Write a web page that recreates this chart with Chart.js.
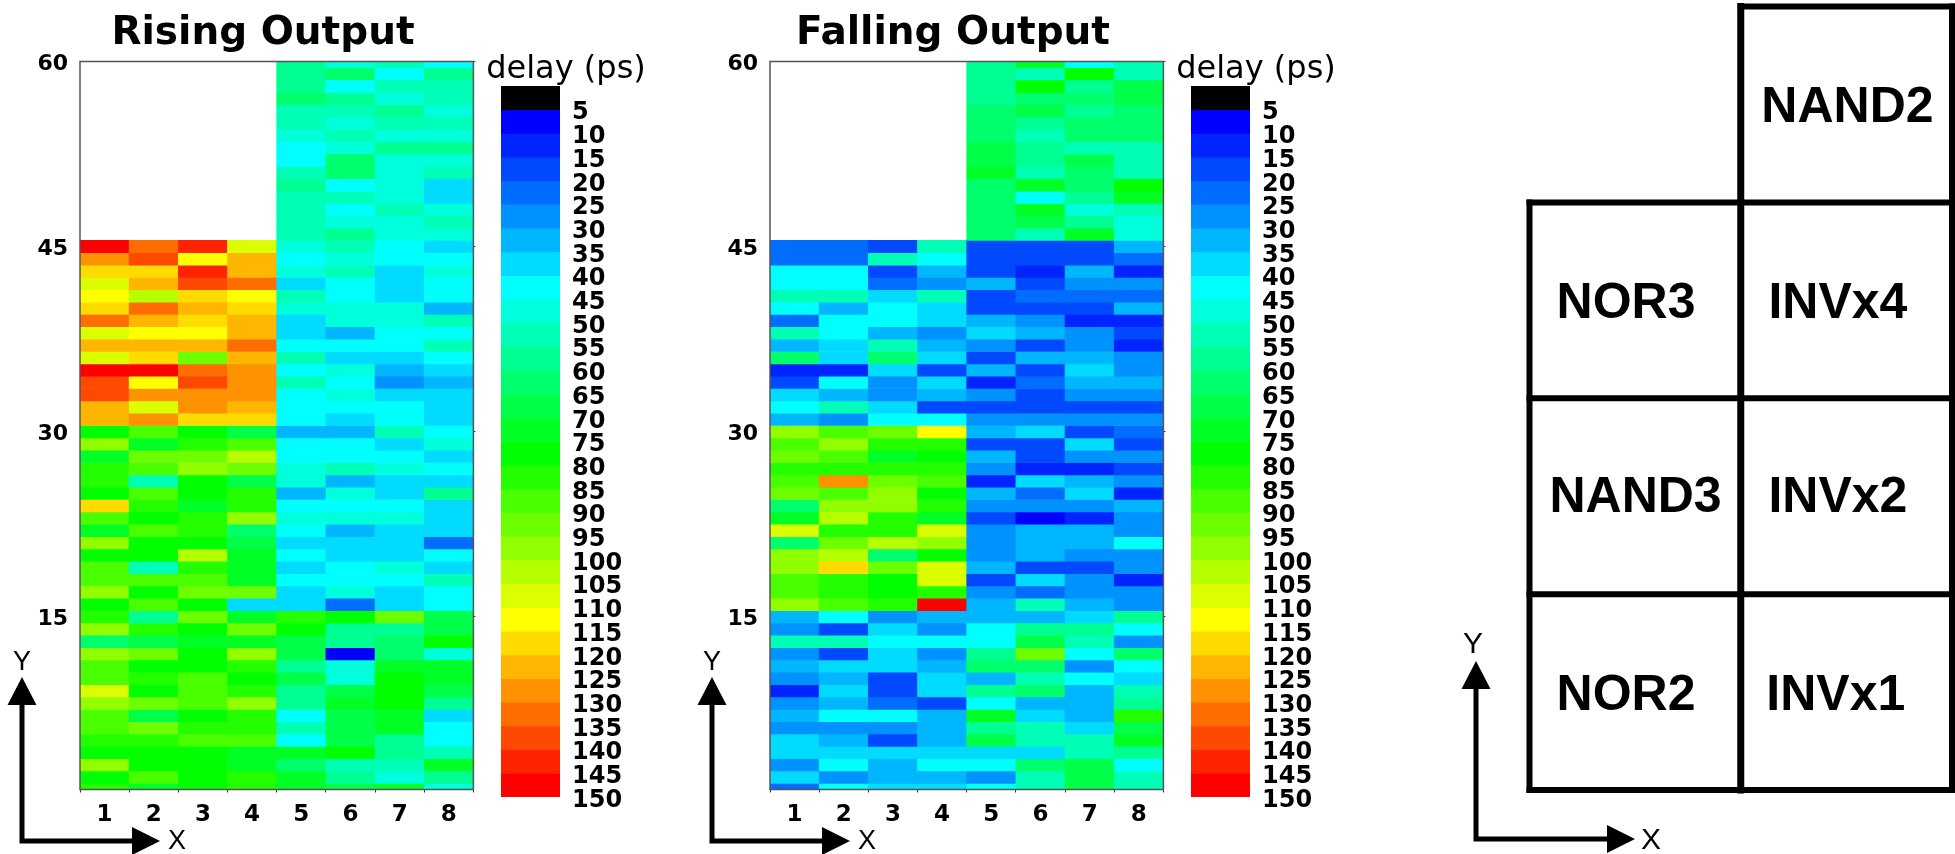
<!DOCTYPE html>
<html lang="en">
    <head>
        <meta charset="UTF-8">
        <title>Rising and Falling Output Delay</title>
        <style>
            body { margin: 0; background: #fff; }
            canvas { position: absolute; top: 0; }
        </style>
    </head>
    <body>
        <canvas id="rising" width="526" height="854" style="left:0"></canvas>
        <canvas id="risingBar" width="170" height="854" style="left:481px"></canvas>
        <canvas id="falling" width="526" height="854" style="left:690px"></canvas>
        <canvas id="fallingBar" width="170" height="854" style="left:1171px"></canvas>
        <canvas id="layout" width="515" height="854" style="left:1440px"></canvas>
        <script src="https://cdn.jsdelivr.net/npm/chart.js@4.4.1/dist/chart.umd.js"></script>
        <script>
            const _ = null;
            const columns = ['1', '2', '3', '4', '5', '6', '7', '8'];
            const yTicks = [15, 30, 45, 60];
            const delayLevels = [5, 10, 15, 20, 25, 30, 35, 40, 45, 50, 55, 60, 65, 70, 75, 80, 85, 90, 95, 100, 105, 110, 115, 120, 125, 130, 135, 140, 145, 150];

            // delay in ps, first line is row 60, last line is row 1
            const risingDelay = [
                [_, _, _, _, 57, 47, 52, 42],
                [_, _, _, _, 57, 62, 42, 57],
                [_, _, _, _, 57, 42, 52, 52],
                [_, _, _, _, 62, 57, 47, 52],
                [_, _, _, _, 52, 52, 57, 47],
                [_, _, _, _, 52, 47, 52, 52],
                [_, _, _, _, 47, 52, 47, 47],
                [_, _, _, _, 42, 47, 57, 57],
                [_, _, _, _, 42, 62, 47, 47],
                [_, _, _, _, 52, 62, 47, 52],
                [_, _, _, _, 57, 42, 47, 37],
                [_, _, _, _, 52, 52, 47, 37],
                [_, _, _, _, 52, 42, 52, 47],
                [_, _, _, _, 52, 47, 47, 52],
                [_, _, _, _, 52, 57, 47, 47],
                [147, 132, 142, 107, 47, 52, 42, 37],
                [127, 137, 112, 122, 42, 47, 42, 42],
                [117, 117, 142, 122, 47, 52, 37, 47],
                [107, 122, 137, 132, 37, 42, 37, 42],
                [112, 102, 117, 112, 52, 42, 37, 42],
                [117, 132, 122, 117, 47, 47, 47, 32],
                [132, 122, 117, 122, 37, 47, 47, 52],
                [107, 112, 112, 122, 37, 32, 42, 42],
                [122, 122, 122, 132, 42, 42, 42, 52],
                [107, 117, 92, 122, 52, 37, 37, 42],
                [147, 147, 132, 127, 42, 47, 32, 37],
                [137, 112, 137, 127, 52, 42, 27, 32],
                [137, 127, 127, 127, 42, 47, 37, 37],
                [122, 107, 127, 122, 42, 42, 42, 37],
                [122, 127, 117, 117, 42, 37, 42, 37],
                [77, 87, 77, 67, 32, 32, 52, 42],
                [97, 72, 82, 87, 42, 42, 37, 47],
                [72, 92, 92, 102, 42, 42, 42, 37],
                [82, 87, 97, 92, 47, 52, 47, 42],
                [82, 52, 77, 67, 47, 32, 37, 37],
                [77, 87, 77, 82, 32, 47, 37, 57],
                [117, 82, 72, 82, 42, 42, 42, 37],
                [87, 77, 82, 97, 47, 47, 47, 37],
                [72, 87, 82, 62, 42, 32, 37, 37],
                [97, 77, 77, 67, 37, 37, 37, 22],
                [77, 77, 102, 72, 42, 37, 37, 42],
                [87, 52, 82, 72, 37, 42, 47, 37],
                [87, 87, 87, 72, 42, 42, 42, 52],
                [97, 77, 92, 92, 37, 47, 37, 42],
                [77, 87, 77, 37, 37, 22, 37, 42],
                [82, 57, 92, 72, 82, 77, 92, 67],
                [97, 82, 77, 92, 77, 57, 57, 67],
                [62, 67, 72, 72, 67, 57, 62, 77],
                [97, 92, 77, 97, 67, 7, 62, 47],
                [87, 77, 77, 82, 57, 47, 72, 72],
                [87, 82, 87, 77, 67, 47, 77, 72],
                [107, 77, 87, 82, 57, 67, 77, 67],
                [97, 92, 87, 97, 57, 72, 77, 57],
                [87, 67, 77, 82, 42, 67, 72, 37],
                [87, 92, 82, 82, 52, 67, 72, 42],
                [82, 82, 87, 87, 42, 67, 57, 42],
                [77, 77, 77, 72, 72, 77, 57, 52],
                [97, 77, 77, 72, 62, 52, 52, 72],
                [77, 87, 77, 82, 72, 57, 47, 57],
                [82, 72, 77, 82, 72, 67, 72, 47]
            ];

            const fallingDelay = [
                [_, _, _, _, 57, 72, 42, 52],
                [_, _, _, _, 57, 52, 77, 52],
                [_, _, _, _, 57, 77, 57, 67],
                [_, _, _, _, 57, 62, 62, 67],
                [_, _, _, _, 62, 67, 57, 62],
                [_, _, _, _, 62, 57, 62, 62],
                [_, _, _, _, 62, 52, 62, 62],
                [_, _, _, _, 67, 57, 52, 52],
                [_, _, _, _, 67, 57, 67, 52],
                [_, _, _, _, 72, 52, 62, 52],
                [_, _, _, _, 62, 72, 62, 77],
                [_, _, _, _, 62, 42, 57, 72],
                [_, _, _, _, 62, 72, 47, 52],
                [_, _, _, _, 62, 67, 57, 47],
                [_, _, _, _, 62, 52, 72, 47],
                [22, 22, 17, 52, 17, 17, 17, 32],
                [22, 22, 52, 42, 17, 17, 17, 22],
                [42, 42, 17, 32, 17, 12, 32, 12],
                [42, 42, 22, 27, 32, 17, 27, 27],
                [52, 52, 37, 52, 17, 22, 22, 22],
                [42, 32, 42, 37, 17, 17, 17, 32],
                [22, 42, 42, 37, 32, 27, 12, 12],
                [52, 42, 32, 27, 37, 32, 27, 17],
                [32, 37, 52, 32, 27, 17, 27, 12],
                [62, 37, 62, 37, 17, 32, 32, 27],
                [12, 12, 37, 17, 32, 17, 37, 27],
                [17, 42, 27, 37, 12, 22, 32, 32],
                [37, 32, 27, 32, 27, 17, 27, 27],
                [42, 52, 37, 17, 17, 17, 17, 17],
                [32, 27, 42, 42, 27, 27, 27, 27],
                [97, 87, 92, 112, 32, 37, 17, 22],
                [87, 97, 82, 82, 17, 17, 37, 17],
                [92, 87, 72, 77, 32, 17, 27, 27],
                [82, 82, 82, 82, 27, 12, 12, 17],
                [87, 127, 92, 87, 12, 37, 32, 27],
                [92, 87, 97, 77, 32, 22, 37, 12],
                [62, 97, 97, 82, 27, 27, 27, 32],
                [72, 102, 82, 72, 17, 7, 12, 27],
                [107, 82, 82, 107, 27, 32, 32, 27],
                [62, 92, 102, 97, 27, 32, 32, 42],
                [97, 102, 62, 77, 27, 32, 27, 27],
                [97, 117, 92, 107, 32, 17, 17, 27],
                [87, 82, 77, 107, 17, 37, 27, 12],
                [87, 82, 77, 82, 27, 22, 27, 27],
                [97, 87, 82, 147, 32, 52, 32, 27],
                [32, 42, 27, 32, 32, 32, 37, 57],
                [27, 17, 37, 27, 42, 57, 57, 42],
                [52, 52, 42, 42, 42, 67, 52, 27],
                [27, 17, 37, 27, 57, 92, 42, 62],
                [32, 37, 37, 32, 62, 62, 27, 42],
                [27, 32, 17, 37, 32, 52, 42, 37],
                [12, 37, 17, 37, 57, 62, 32, 52],
                [27, 32, 22, 17, 42, 32, 32, 57],
                [32, 42, 42, 32, 72, 37, 32, 82],
                [27, 27, 27, 32, 57, 52, 37, 67],
                [37, 32, 17, 32, 67, 52, 52, 72],
                [37, 37, 37, 37, 37, 37, 52, 57],
                [27, 42, 32, 42, 42, 62, 67, 42],
                [37, 27, 32, 32, 27, 52, 67, 52],
                [22, 42, 37, 37, 42, 52, 67, 52]
            ];

            // floorplan cells, in grid units (2 columns, 4 rows, 0 at the bottom)
            const cellNames = ['NAND2', 'NOR3', 'INVx4', 'NAND3', 'INVx2', 'NOR2', 'INVx1'];
            const cellColumns = [1.505, 0.457, 1.46, 0.502, 1.46, 0.457, 1.45];
            const cellRows = [3.48, 2.48, 2.48, 1.49, 1.49, 0.48, 0.48];
            const gridLines = [
                [0, 0, 0, 3], [1, 0, 1, 4], [2, 0, 2, 4],
                [0, 0, 2, 0], [0, 1, 2, 1], [0, 2, 2, 2], [0, 3, 2, 3], [1, 4, 2, 4]
            ];

            Chart.defaults.font.family = '"DejaVu Sans"';
            Chart.defaults.color = '#000';
            Chart.defaults.animation = false;

            // blue > cyan > green > yellow > red in 7 steps each, like the color bar
            function delayColor(v) {
                const k = Math.floor((v - 5) / 5);
                const c = n => Math.round(n * 255 / 7);
                if (k < 7) return `rgb(0,${c(k)},255)`;
                if (k < 14) return `rgb(0,255,${c(14 - k)})`;
                if (k < 21) return `rgb(${c(k - 14)},255,0)`;
                return `rgb(255,${c(28 - k)},0)`;
            }

            const framePlugin = {
                id: 'frame',
                afterDatasetsDraw(chart) {
                    const a = chart.chartArea, ctx = chart.ctx;
                    ctx.save();
                    ctx.strokeStyle = '#555';
                    ctx.lineWidth = 1.5;
                    ctx.strokeRect(a.left, a.top, a.right - a.left, a.bottom - a.top);
                    ctx.restore();
                }
            };

            // the small X / Y arrows next to each panel
            const arrowsPlugin = {
                id: 'arrows',
                afterDraw(chart, args, o) {
                    const ctx = chart.ctx;
                    if (o.x0 === undefined) return;
                    ctx.save();
                    ctx.fillStyle = ctx.strokeStyle = '#000';
                    ctx.lineWidth = 5;
                    ctx.beginPath();
                    ctx.moveTo(o.x0, o.tipY + 20);
                    ctx.lineTo(o.x0, o.y0);
                    ctx.lineTo(o.tipX - 20, o.y0);
                    ctx.stroke();
                    ctx.beginPath();
                    ctx.moveTo(o.x0, o.tipY);
                    ctx.lineTo(o.x0 + 14.5, o.tipY + 28);
                    ctx.lineTo(o.x0 - 14.5, o.tipY + 28);
                    ctx.closePath();
                    ctx.moveTo(o.tipX, o.y0);
                    ctx.lineTo(o.tipX - 28, o.y0 - 14);
                    ctx.lineTo(o.tipX - 28, o.y0 + 14);
                    ctx.closePath();
                    ctx.fill();
                    ctx.font = o.font;
                    ctx.textAlign = 'center';
                    ctx.textBaseline = 'middle';
                    ctx.fillText('Y', o.yLabelX, o.yLabelY);
                    ctx.fillText('X', o.xLabelX, o.xLabelY);
                    ctx.restore();
                }
            };

            const cellLabelPlugin = {
                id: 'cellLabels',
                afterDatasetsDraw(chart) {
                    const ctx = chart.ctx;
                    ctx.save();
                    ctx.fillStyle = '#000';
                    ctx.font = 'bold 50px "Liberation Sans"';
                    ctx.textAlign = 'center';
                    ctx.textBaseline = 'middle';
                    cellNames.forEach(function (name, i) {
                        ctx.fillText(name, chart.scales.x.getPixelForValue(cellColumns[i]), chart.scales.y.getPixelForValue(cellRows[i]));
                    });
                    ctx.restore();
                }
            };

            function heatmap(id, title, delays) {
                new Chart(document.getElementById(id), {
                    type: 'bar',
                    data: {
                        labels: columns,
                        datasets: delays.map(function (row, i) {
                            const y = 60 - i;
                            return {
                                data: row.map(v => v === null ? null : [y - 0.5, y + 0.5]),
                                backgroundColor: row.map(v => v === null ? 'transparent' : delayColor(v)),
                                yAxisID: 'y',
                                grouped: false,
                                barPercentage: 1,
                                categoryPercentage: 1
                            };
                        })
                    },
                    options: {
                        responsive: false,
                        plugins: {
                            legend: { display: false },
                            tooltip: { enabled: false },
                            title: {
                                display: true,
                                text: title,
                                font: { size: 39, weight: 'bold' },
                                padding: { top: 10, bottom: 4.7 }
                            },
                            arrows: {
                                x0: 22, y0: 841, tipX: 160, tipY: 677,
                                yLabelX: 22, yLabelY: 663, xLabelX: 177, xLabelY: 842,
                                font: '27px "Liberation Sans"'
                            }
                        },
                        scales: {
                            x: {
                                grid: { drawOnChartArea: false, tickLength: 3, color: '#333' },
                                border: { display: false },
                                ticks: { font: { size: 23, weight: 'bold' }, padding: 9, maxRotation: 0 },
                                afterFit(s) { s.height = 64.5; }
                            },
                            y: {
                                min: 1,
                                max: 60,
                                grid: { display: false, drawTicks: false },
                                border: { display: false },
                                ticks: { font: { size: 22, weight: 'bold' }, padding: 12, labelOffset: 3 },
                                afterBuildTicks(s) { s.ticks = yTicks.map(v => ({ value: v })); },
                                afterFit(s) { s.width = 80; }
                            },
                            // only carries the little tick marks on the right edge
                            yRight: {
                                position: 'right',
                                min: 1,
                                max: 60,
                                grid: { drawOnChartArea: false, tickLength: 2, color: '#333' },
                                border: { display: false },
                                ticks: { display: false },
                                afterBuildTicks(s) { s.ticks = yTicks.map(v => ({ value: v })); },
                                afterFit(s) { s.width = 52.6; }
                            }
                        }
                    },
                    plugins: [framePlugin, arrowsPlugin]
                });
            }

            function colorBar(id) {
                const datasets = [{
                    data: [[0, delayLevels[0]]],
                    backgroundColor: '#000',
                    yAxisID: 'y',
                    grouped: false,
                    barPercentage: 1,
                    categoryPercentage: 1
                }];
                delayLevels.slice(0, -1).forEach(function (level, i) {
                    datasets.push({
                        data: [[level, delayLevels[i + 1]]],
                        backgroundColor: delayColor(level),
                        yAxisID: 'y',
                        grouped: false,
                        barPercentage: 1,
                        categoryPercentage: 1
                    });
                });
                new Chart(document.getElementById(id), {
                    type: 'bar',
                    data: { labels: ['delay'], datasets: datasets },
                    options: {
                        responsive: false,
                        layout: { padding: { bottom: 57 } },
                        plugins: {
                            legend: { display: false },
                            tooltip: { enabled: false },
                            title: {
                                display: true,
                                text: 'delay (ps)',
                                font: { size: 32, weight: 'normal', lineHeight: 1 },
                                padding: { top: 54, bottom: 0 }
                            }
                        },
                        scales: {
                            x: { display: false },
                            // empty axis, keeps the bar clear of the left edge without shrinking the title
                            yLeft: {
                                position: 'left',
                                min: 0,
                                max: 150,
                                grid: { display: false, drawTicks: false },
                                border: { display: false },
                                ticks: { display: false },
                                afterFit(s) { s.width = 20; }
                            },
                            y: {
                                position: 'right',
                                reverse: true,
                                min: 0,
                                max: 150,
                                grid: { display: false, drawTicks: false },
                                border: { display: false },
                                ticks: {
                                    stepSize: 5,
                                    autoSkip: false,
                                    labelOffset: 3.5,
                                    padding: 12,
                                    font: { size: 24, weight: 'bold' },
                                    callback: v => v === 0 ? '' : v
                                },
                                afterFit(s) { s.width = 91; }
                            }
                        }
                    }
                });
            }

            heatmap('rising', 'Rising Output', risingDelay);
            colorBar('risingBar');
            heatmap('falling', 'Falling Output', fallingDelay);
            colorBar('fallingBar');

            new Chart(document.getElementById('layout'), {
                type: 'scatter',
                data: {
                    datasets: gridLines.map(function (l) {
                        return {
                            data: [{ x: l[0], y: l[1] }, { x: l[2], y: l[3] }],
                            showLine: true,
                            borderColor: '#000',
                            borderWidth: l[0] === 1 && l[2] === 1 ? 7 : 6,
                            borderCapStyle: 'square',
                            pointRadius: 0,
                            clip: false
                        };
                    })
                },
                options: {
                    responsive: false,
                    layout: { padding: { left: 89.5, right: 3, top: 6.5, bottom: 64 } },
                    plugins: {
                        legend: { display: false },
                        tooltip: { enabled: false },
                        arrows: {
                            x0: 36, y0: 839, tipX: 195, tipY: 661,
                            yLabelX: 33, yLabelY: 645, xLabelX: 211, xLabelY: 841,
                            font: '30px "Liberation Sans"'
                        }
                    },
                    scales: {
                        x: { display: false, min: 0, max: 2 },
                        y: { display: false, min: 0, max: 4 }
                    }
                },
                plugins: [cellLabelPlugin, arrowsPlugin]
            });
        </script>
    </body>
</html>
